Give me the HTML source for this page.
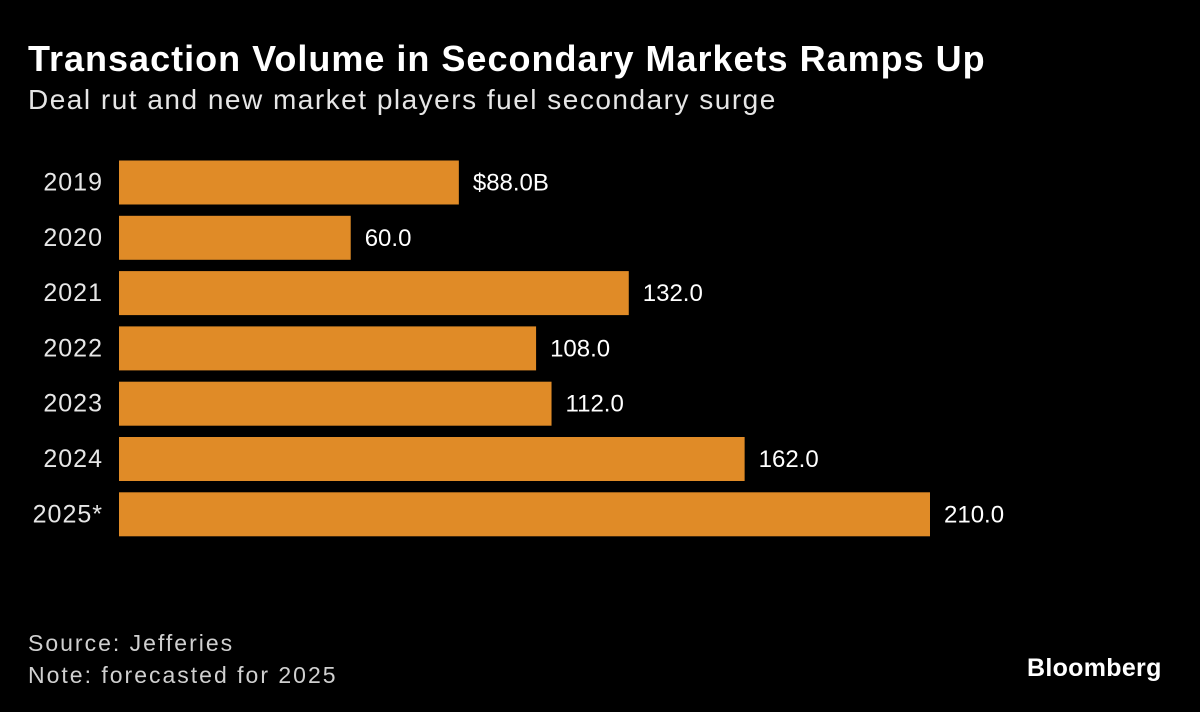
<!DOCTYPE html>
<html><head><meta charset="utf-8"><style>
body{margin:0;background:#000;width:1200px;height:712px;overflow:hidden;font-family:"Liberation Sans",sans-serif;color:#fff;position:relative}
.t{position:absolute;left:28px;top:38px;font-size:36px;font-weight:bold;letter-spacing:1px}
.s{position:absolute;left:28px;top:84px;font-size:28px;color:#e6e6e6;letter-spacing:1.5px}
.f{position:absolute;left:28px;font-size:23px;color:#d0d0d0;letter-spacing:2px}
.logo{position:absolute;left:1027px;top:654px;font-size:25px;font-weight:bold;letter-spacing:0.3px}
</style></head><body>
<div class="t">Transaction Volume in Secondary Markets Ramps Up</div>
<div class="s">Deal rut and new market players fuel secondary surge</div>
<svg id="chart" width="1200" height="712" style="position:absolute;left:0;top:0"></svg>
<div class="f" style="top:630px">Source: Jefferies</div>
<div class="f" style="top:662px">Note: forecasted for 2025</div>
<div class="logo">Bloomberg</div>
<script>
const categories=["2019","2020","2021","2022","2023","2024","2025*"];
const values=[88,60,132,108,112,162,210];
const labels=["$88.0B","60.0","132.0","108.0","112.0","162.0","210.0"];
const svg=document.getElementById('chart');
const NS="http://www.w3.org/2000/svg";
const x0=119, scale=811/210;
function xs(v){return x0+v*scale;}
function ys(i){return 160.5+i*55.3;}
categories.forEach((c,i)=>{
  const r=document.createElementNS(NS,'rect');
  r.setAttribute('x',x0);r.setAttribute('y',ys(i));
  r.setAttribute('width',xs(values[i])-x0);r.setAttribute('height',44);
  r.setAttribute('fill','#e08b27');
  
  
  svg.appendChild(r);
  const t=document.createElementNS(NS,'text');
  t.setAttribute('x',103);t.setAttribute('y',ys(i)+30);
  t.setAttribute('text-anchor','end');t.setAttribute('fill','#e6e6e6');
  t.setAttribute('font-size','25');t.setAttribute('letter-spacing','1');t.setAttribute('font-family','Liberation Sans, sans-serif');
  t.textContent=c;
  
  
  svg.appendChild(t);
  const v=document.createElementNS(NS,'text');
  v.setAttribute('x',xs(values[i])+14);v.setAttribute('y',ys(i)+30);
  v.setAttribute('fill','#fff');
  v.setAttribute('font-size','24');v.setAttribute('font-family','Liberation Sans, sans-serif');
  v.textContent=labels[i];
  
  
  svg.appendChild(v);
});
</script>
</body></html>
